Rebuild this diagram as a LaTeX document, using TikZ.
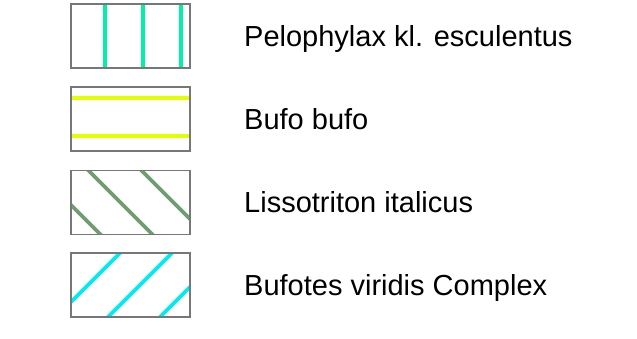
\documentclass[tikz,border=0pt]{standalone}
\usepackage{fontspec}
\setmainfont{Liberation Sans}
\definecolor{cA}{HTML}{00F0A8}
\definecolor{cB}{HTML}{E4FF00}
\definecolor{cC}{HTML}{6E9E70}
\definecolor{cD}{HTML}{00ECF4}
\definecolor{bord}{HTML}{777777}
\begin{document}
\begin{tikzpicture}[x=1pt,y=-1pt,
  box/.style={draw=bord,line width=1.2pt,minimum width=119pt,minimum height=64pt,inner sep=0pt,outer sep=0pt},
  hatch/.style={line width=3.6pt},
  lbl/.style={anchor=base west,inner sep=0pt,font=\fontsize{29}{34}\selectfont}]
\useasboundingbox (0,0) rectangle (637,338);
% hatches
\begin{scope}
\clip (71,4) rectangle (190,68);
\foreach \x in {105,143,181} \draw[hatch,cA] (\x,0) -- (\x,72);
\end{scope}
\begin{scope}
\clip (71,87) rectangle (190,151);
\foreach \y in {98,136} \draw[hatch,cB] (60,\y) -- (200,\y);
\end{scope}
\begin{scope}
\clip (71,171) rectangle (190,234);
\foreach \c in {-134,-82,-29} \draw[hatch,cC] (60,60-\c) -- (200,200-\c);
\end{scope}
\begin{scope}
\clip (71,253) rectangle (190,317);
\foreach \c in {373,425,477} \draw[hatch,cD] (60,\c-60) -- (200,\c-200);
\end{scope}
\node[box] (b1) at (130.5,36) {};
\node[box] (b2) at (130.5,119) {};
\node[box] (b3) at (130.5,202.5) {};
\node[box] (b4) at (130.5,285) {};
\node[lbl] (t1) at (244,46.5) {Pelophylax kl. esculentus};
\node[lbl] (t2) at (244,129.5) {Bufo bufo};
\node[lbl] (t3) at (244,212.5) {Lissotriton italicus};
\node[lbl] (t4) at (244,295.5) {Bufotes viridis Complex};
\end{tikzpicture}
\end{document}
